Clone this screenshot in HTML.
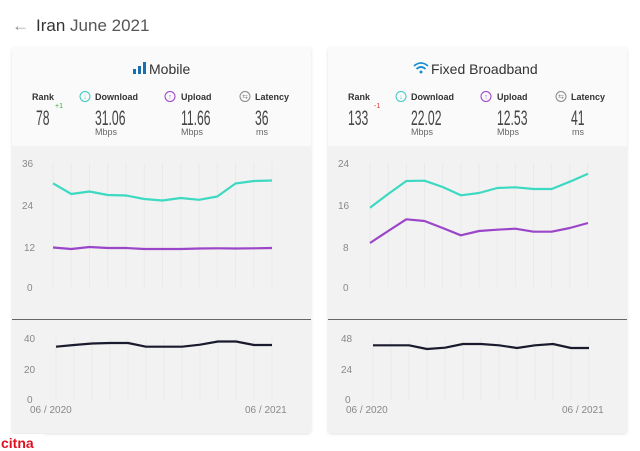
<!DOCTYPE html><html><head><style>body{margin:0;background:#fff}svg{display:block}text{font-family:"Liberation Sans",sans-serif}</style></head><body>
<svg width="640" height="451" viewBox="0 0 640 451">
<rect width="640" height="451" fill="#fff"/>
<text x="12" y="31" font-size="17" fill="#999">←</text>
<text x="36" y="31" font-size="17" fill="#333">Iran <tspan fill="#555">June 2021</tspan></text>
<defs><filter id="sh" x="-5%" y="-5%" width="110%" height="110%"><feDropShadow dx="0" dy="1" stdDeviation="1.5" flood-color="#000" flood-opacity="0.12"/></filter></defs>
<g filter="url(#sh)"><rect x="12" y="47" width="299" height="386" rx="3" fill="#f2f2f2"/><rect x="328" y="47" width="299" height="386" rx="3" fill="#f2f2f2"/></g>
<rect x="12" y="47" width="299" height="99" fill="#fafafa"/><rect x="328" y="47" width="299" height="99" fill="#fafafa"/>
<line x1="12" y1="319.5" x2="311" y2="319.5" stroke="#666" stroke-width="1"/>
<line x1="328" y1="319.5" x2="627" y2="319.5" stroke="#666" stroke-width="1"/>
<g fill="#1a6fb0"><rect x="133" y="69" width="3" height="5"/><rect x="138" y="66" width="3" height="8"/><rect x="143" y="62" width="3" height="12"/></g>
<text x="149" y="74" font-size="14" fill="#333">Mobile</text>
<g font-size="9" font-weight="bold" fill="#333">
<text x="32" y="100">Rank</text><text x="95" y="100">Download</text><text x="181" y="100">Upload</text><text x="255" y="100">Latency</text>
<text x="348" y="100">Rank</text><text x="411" y="100">Download</text><text x="497" y="100">Upload</text><text x="571" y="100">Latency</text></g>
<g fill="none" stroke-width="1"><circle cx="85" cy="96.5" r="5" stroke="#3cc8c0"/><circle cx="170" cy="96.5" r="5" stroke="#9b3fc8"/><circle cx="245" cy="96.5" r="5" stroke="#888"/>
<circle cx="401" cy="96.5" r="5" stroke="#3cc8c0"/><circle cx="486" cy="96.5" r="5" stroke="#9b3fc8"/><circle cx="561" cy="96.5" r="5" stroke="#888"/></g>
<g font-size="7" text-anchor="middle"><text x="85" y="99" fill="#3cc8c0">↓</text><text x="170" y="99" fill="#9b3fc8">↑</text><text x="245" y="99" fill="#888">⇆</text>
<text x="401" y="99" fill="#3cc8c0">↓</text><text x="486" y="99" fill="#9b3fc8">↑</text><text x="561" y="99" fill="#888">⇆</text></g>
<g font-size="21" fill="#444">
<text transform="translate(36,125) scale(0.58,1)">78</text>
<text transform="translate(95,125) scale(0.58,1)">31.06</text>
<text transform="translate(181,125) scale(0.58,1)">11.66</text>
<text transform="translate(255,125) scale(0.58,1)">36</text>
<text transform="translate(348,125) scale(0.58,1)">133</text>
<text transform="translate(411,125) scale(0.58,1)">22.02</text>
<text transform="translate(497,125) scale(0.58,1)">12.53</text>
<text transform="translate(571,125) scale(0.58,1)">41</text></g>
<text x="55" y="108" font-size="7" fill="#3a3">+1</text><text x="374" y="108" font-size="7" fill="#d33">-1</text>
<g font-size="9" fill="#666"><text x="95" y="135">Mbps</text><text x="181" y="135">Mbps</text><text x="256" y="135">ms</text>
<text x="411" y="135">Mbps</text><text x="497" y="135">Mbps</text><text x="572" y="135">ms</text></g>
<path d="M414 66 q7 -6 14 0 M416.5 69 q4.5 -4 9 0" stroke="#1a8fd0" stroke-width="1.8" fill="none"/><circle cx="421" cy="72" r="1.5" fill="#1a8fd0"/>
<text x="431" y="74" font-size="14" fill="#333">Fixed Broadband</text>
<g stroke="#e8e8e8" stroke-width="0.8">
<path d="M53 163V287M71.25 163V287M89.5 163V287M107.75 163V287M126 163V287M144.25 163V287M162.5 163V287M180.75 163V287M199 163V287M217.25 163V287M235.5 163V287M253.75 163V287M272 163V287"/>
<path d="M56 338V400M74 338V400M92 338V400M110 338V400M128 338V400M146 338V400M164 338V400M182 338V400M200 338V400M218 338V400M236 338V400M254 338V400M272 338V400"/>
<path d="M370 163V287M388.2 163V287M406.3 163V287M424.5 163V287M442.7 163V287M460.8 163V287M479 163V287M497.2 163V287M515.3 163V287M533.5 163V287M551.7 163V287M569.8 163V287M588 163V287"/>
<path d="M373 338V400M391 338V400M409 338V400M427 338V400M445 338V400M463 338V400M481 338V400M499 338V400M517 338V400M535 338V400M553 338V400M571 338V400M589 338V400"/></g>
<g font-size="10" fill="#888">
<text x="22" y="167">36</text><text x="22" y="209">24</text><text x="24" y="251">12</text><text x="27" y="291">0</text>
<text x="24" y="342">40</text><text x="24" y="373">20</text><text x="27" y="403">0</text>
<text x="30" y="413">06 / 2020</text><text x="245" y="413">06 / 2021</text>
<text x="338" y="167">24</text><text x="338" y="209">16</text><text x="343" y="251">8</text><text x="343" y="291">0</text>
<text x="341" y="342">48</text><text x="341" y="373">24</text><text x="345" y="403">0</text>
<text x="346" y="413">06 / 2020</text><text x="562" y="413">06 / 2021</text></g>
<g fill="none" stroke-width="2.2" stroke-linejoin="round">
<polyline stroke="#3dd9c1" points="53,183.3 71.25,194 89.5,191.5 107.75,195 126,195.5 144.25,199 162.5,200.5 180.75,198 199,199.8 217.25,196.5 235.5,183.5 253.75,181 272,180.5"/>
<polyline stroke="#9b45c9" points="53,247.5 71.25,249 89.5,247 107.75,248 126,248 144.25,249 162.5,249 180.75,249 199,248.5 217.25,248.3 235.5,248.5 253.75,248.3 272,248"/>
<polyline stroke="#1a1a2e" points="56,346.7 74,345 92,343.5 110,343 128,343 146,346.7 164,346.7 182,346.7 200,344.7 218,341.5 236,341.5 254,345 272,345"/>
<polyline stroke="#3dd9c1" points="370,207.7 388.2,194 406.3,181 424.5,180.7 442.7,187 460.8,195.3 479,193 497.2,188 515.3,187.3 533.5,189 551.7,189 569.8,181.7 588,173.7"/>
<polyline stroke="#9b45c9" points="370,243 388.2,231 406.3,219.3 424.5,221 442.7,228 460.8,235.3 479,231 497.2,229.7 515.3,228.7 533.5,231.7 551.7,231.7 569.8,228 588,223"/>
<polyline stroke="#1a1a2e" points="373,345.3 391,345.3 409,345.3 427,349 445,347.7 463,344 481,344 499,345.3 517,348 535,345.3 553,344 571,348 589,348"/>
</g>
<rect x="0" y="434" width="44" height="17" fill="#fff"/>
<text x="1" y="448" font-size="14" font-weight="bold" fill="#e01020">citna</text>
</svg></body></html>
